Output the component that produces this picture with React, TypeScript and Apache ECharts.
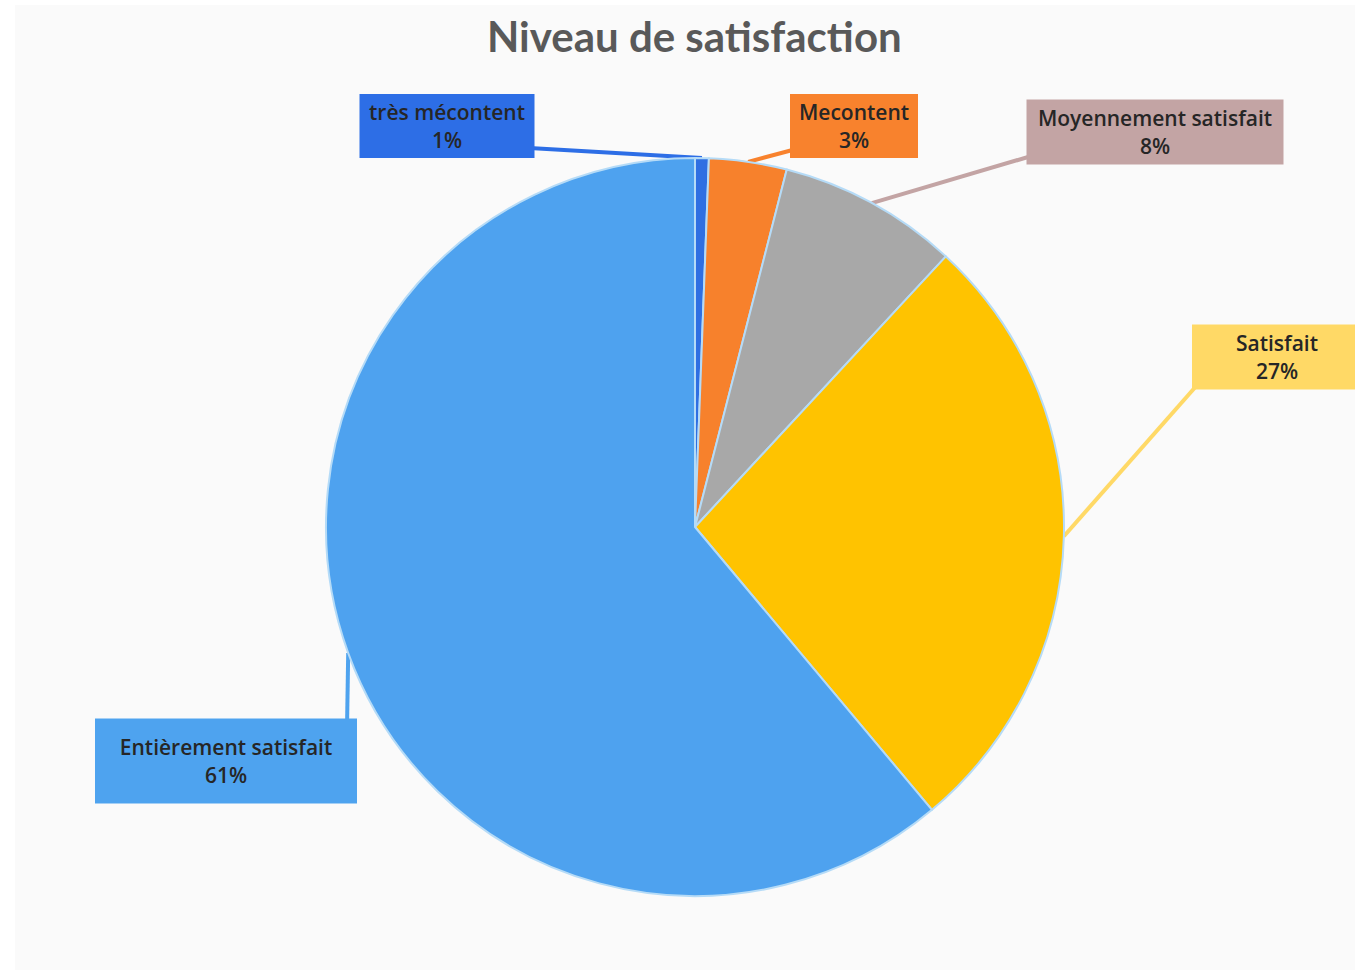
import React, { useEffect, useRef } from "react";
import * as echarts from "echarts";

const categories = ["très mécontent", "Mecontent", "Moyennement satisfait", "Satisfait", "Entièrement satisfait"];
const values = [0.6, 3.4, 7.9, 27.0, 61.1];
const sliceColors = ["#2f6fe2", "#f7812c", "#a8a8a8", "#ffc300", "#4ea2ef"];
const boxColors = ["#2d6ee6", "#f8822d", "#c3a4a4", "#ffd966", "#4ea3ef"];
// label box centre positions (px, chart coordinates) and sizes
const labelPos = [[432, 121], [839, 121], [1140, 127], [1262, 352], [211, 756]];
const labelBox = [[175, 64], [128, 64], [257, 65], [170, 65], [262, 85]];

export default function App() {
  const ref = useRef<HTMLDivElement>(null);
  useEffect(() => {
    document.body.style.margin = "0";
    document.body.style.background = "#ffffff";
    const chart = echarts.init(ref.current!, undefined, { renderer: "svg" });
    const data = categories.map((name, i) => {
      const [w, h] = labelBox[i];
      const vpad = (h - 56) / 2;
      return {
        name,
        value: values[i],
        itemStyle: { color: sliceColors[i] },
        label: {
          backgroundColor: boxColors[i],
          width: w,
          padding: [vpad, 0, vpad, 0],
        },
        labelLine: { lineStyle: { color: boxColors[i] } },
      };
    });
    chart.setOption({
      animation: false,
      backgroundColor: "#fafafa",
      title: {
        text: "Niveau de satisfaction",
        left: 467,
        top: 5,
        textStyle: { fontFamily: "Lato", fontSize: 42, fontWeight: "bold", color: "#595959" },
      },
      series: [
        {
          type: "pie",
          center: [680, 522],
          radius: 369,
          startAngle: 90,
          clockwise: true,
          data,
          itemStyle: { borderColor: "#b5dbf7", borderWidth: 2 },
          label: {
            show: true,
            position: "outside",
            formatter: (p: any) => `${p.name}\n${Math.round(p.percent)}%`,
            fontFamily: "Open Sans",
            fontSize: 21,
            fontWeight: 600,
            color: "#262626",
            lineHeight: 28,
            align: "center",
          },
          labelLine: { show: true, length: 20, length2: 20, smooth: false, lineStyle: { width: 4 } },
          labelLayout: (params: any) => {
            const i = params.dataIndex;
            const [x, y] = labelPos[i];
            const [w, h] = labelBox[i];
            const pts = params.labelLinePoints;
            const out: any = { x, y, align: "center", verticalAlign: "middle" };
            if (pts && pts.length) {
              const s = pts[0];
              let ex: number, ey: number;
              if (s[0] > x + w / 2 && s[1] > y + h / 2 + 60) {
                ex = x + w / 2 - 10;
                ey = y + h / 2 - 5;
              } else if (s[0] > x + w / 2) {
                ex = x + w / 2 - 5;
                ey = Math.min(Math.max(s[1], y - h / 2 + 10), y + h / 2 - 10);
              } else {
                ex = Math.min(Math.max(s[0], x - w / 2 + 10), x + w / 2 - 10);
                ey = Math.min(Math.max(s[1], y - h / 2 + 10), y + h / 2 - 10);
              }
              out.labelLinePoints = [s, [ex, ey], [ex, ey]];
            }
            return out;
          },
        },
      ],
    });
    return () => chart.dispose();
  }, []);
  return (
    <div style={{ width: 1355, height: 973, background: "#ffffff", position: "relative" }}>
      <div ref={ref} style={{ position: "absolute", left: 15, top: 5, width: 1340, height: 965 }} />
    </div>
  );
}
